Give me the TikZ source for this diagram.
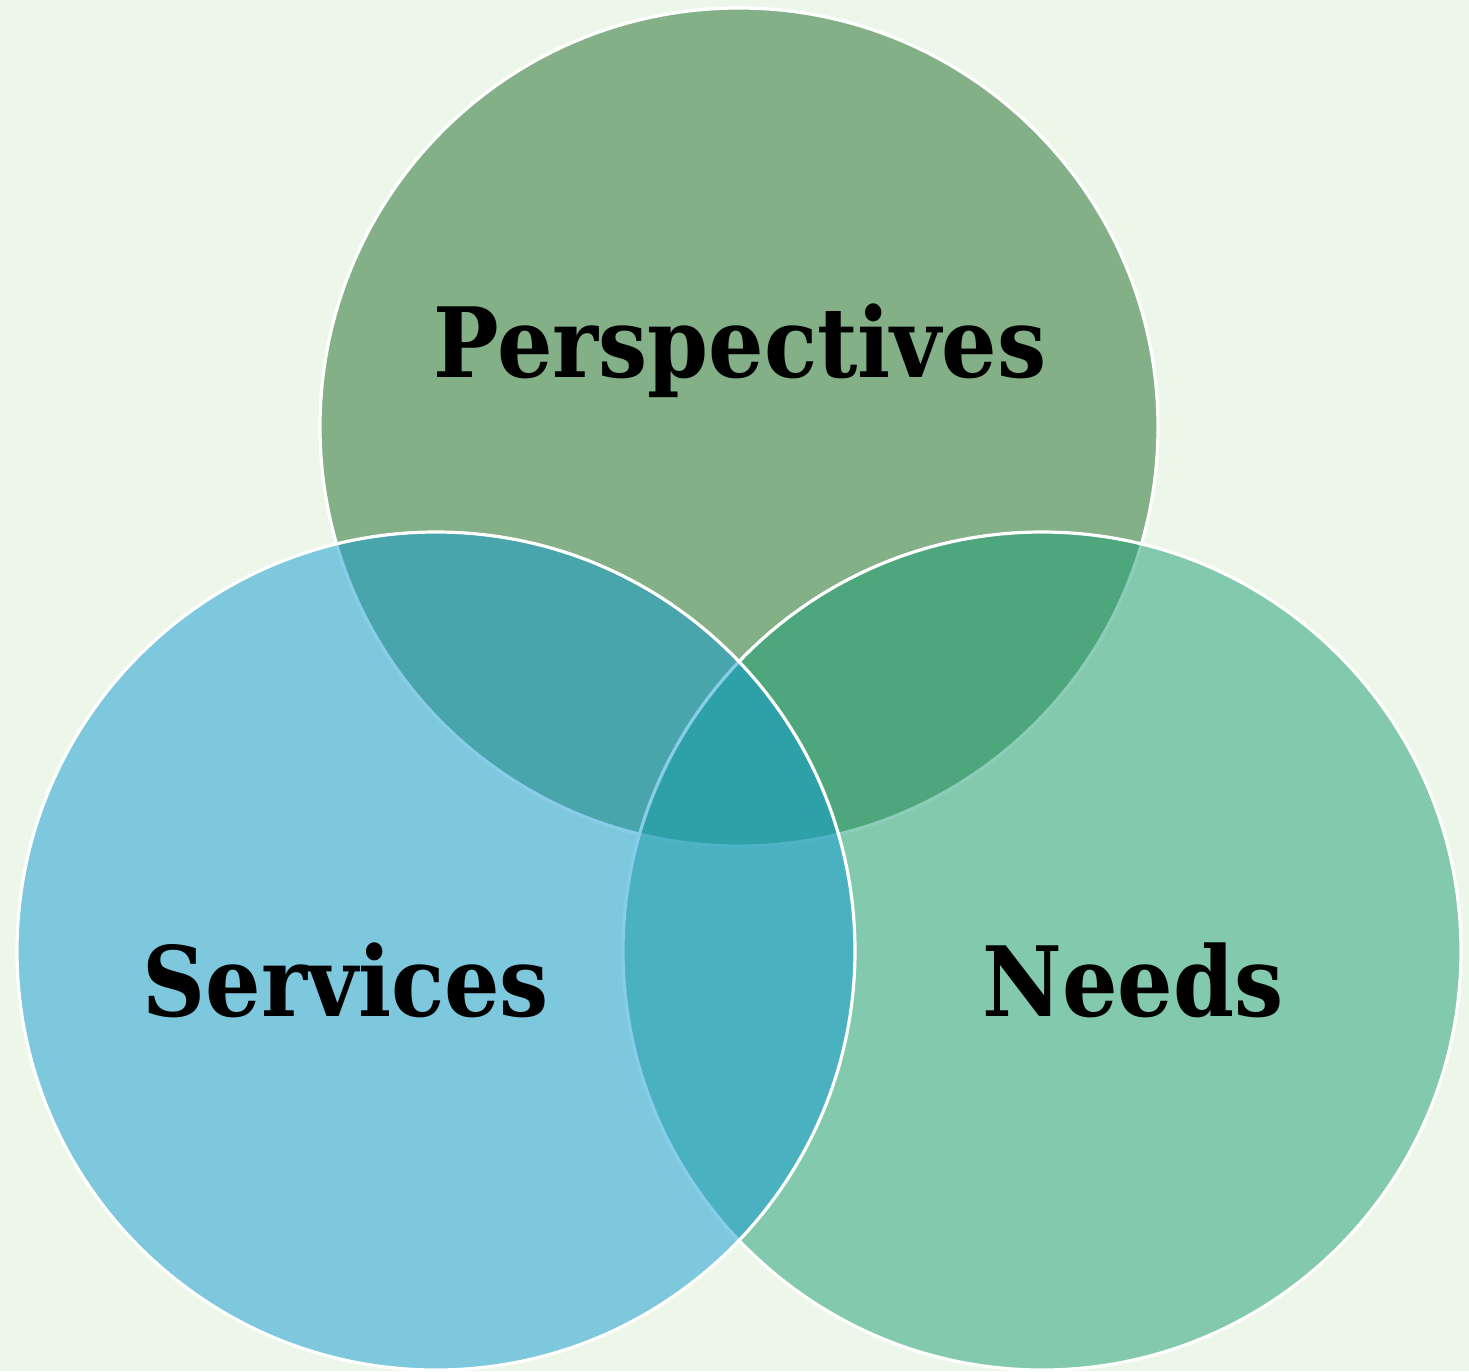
\documentclass[tikz,border=0pt]{standalone}
\usepackage{fontspec}
\setmainfont{DejaVu Serif Condensed}
\definecolor{bgcol}{RGB}{237,247,233}
\definecolor{perspcol}{RGB}{131,176,134}
\definecolor{servcol}{RGB}{17,155,211}
\definecolor{needcol}{RGB}{25,157,115}

\begin{document}
\begin{tikzpicture}[x=1pt,y=-1pt,
		every node/.style={inner sep=0pt,outer sep=0pt},
		ring/.style={circle,draw=white,line width=3.2pt,minimum size=838pt},
		lbl/.style={anchor=base,font=\fontsize{97}{97}\selectfont\bfseries}]
		 \fill[bgcol] (0,0) rectangle (1469,1371);
		 \useasboundingbox (0,0) rectangle (1469,1371);

		 \node[ring,fill=perspcol]                  (persp)  at (739,427)   {};
		 \node[ring,fill=needcol,fill opacity=0.5]  (need)   at (1042,951)  {};
		 \node[ring,fill=servcol,fill opacity=0.5]  (serv)   at (436,951)   {};

		 \node[lbl]  (perspl)  at (740,377)   {Perspectives};
		 \node[lbl]  (servl)   at (346,1016)  {Services};
		 \node[lbl]  (needl)   at (1133,1016) {Needs};
	\end{tikzpicture}
\end{document}
